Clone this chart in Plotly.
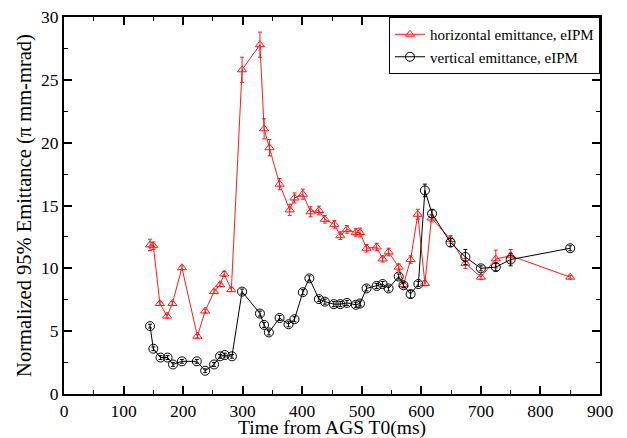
import plotly.graph_objects as go

# Horizontal emittance (red)
h_time = [144.5, 150, 161, 173, 182, 198, 224, 237, 252, 262, 269, 281, 299, 329, 336, 345, 362, 379,
          387, 401, 414, 428, 438, 454, 464, 475, 490, 497, 508, 525, 535, 545, 562, 570, 582, 594,
          606, 617, 649, 674, 700, 725, 750, 850]
h_emit = [11.87, 11.8, 7.2, 6.2, 7.2, 10.05, 4.6, 6.6, 8.15, 8.7, 9.55, 8.3, 25.8, 27.8, 21.1, 19.6, 16.7, 14.65,
          15.6, 15.9, 14.5, 14.6, 13.9, 13.5, 12.6, 13.1, 12.85, 12.85, 11.6, 11.7, 10.75, 11.3, 10.1, 8.7, 10.7, 14.3,
          8.8, 14.0, 12.3, 10.4, 9.3, 10.75, 11.0, 9.3]
h_err = [0.45, 0.3, 0.15, 0.15, 0.15, 0.15, 0.15, 0.15, 0.15, 0.15, 0.2, 0.15, 1.0, 1.0, 0.8, 0.65, 0.45, 0.45,
         0.4, 0.4, 0.4, 0.35, 0.3, 0.3, 0.3, 0.3, 0.3, 0.35, 0.3, 0.3, 0.25, 0.3, 0.25, 0.2, 0.3, 0.4,
         0.2, 0.3, 0.3, 0.4, 0.2, 0.7, 0.5, 0.15]

# Vertical emittance (black)
v_time = [144.5, 150, 162, 174, 183, 198, 223, 237, 252, 262, 270, 282, 299, 329, 336, 344, 362, 377,
          387, 401, 412, 428, 438, 453, 464, 475, 490, 497, 508, 525, 535, 545, 562, 570, 582, 595,
          606, 618, 649, 674, 700, 725, 750, 850]
v_emit = [5.4, 3.6, 2.9, 2.9, 2.35, 2.6, 2.6, 1.85, 2.35, 3.0, 3.1, 3.0, 8.15, 6.4, 5.5, 4.9, 6.05, 5.55,
          5.95, 8.1, 9.2, 7.55, 7.35, 7.15, 7.15, 7.25, 7.1, 7.2, 8.4, 8.6, 8.75, 8.4, 9.35, 8.65, 7.95, 8.75,
          16.2, 14.35, 12.05, 10.9, 10.0, 10.1, 10.7, 11.6]
v_err = [0.15, 0.15, 0.15, 0.15, 0.15, 0.15, 0.15, 0.15, 0.15, 0.15, 0.15, 0.15, 0.2, 0.2, 0.2, 0.2, 0.2, 0.2,
         0.2, 0.2, 0.2, 0.2, 0.2, 0.2, 0.2, 0.2, 0.2, 0.2, 0.2, 0.2, 0.2, 0.2, 0.2, 0.2, 0.3, 0.2,
         0.5, 0.3, 0.3, 0.6, 0.2, 0.3, 0.5, 0.2]

x_title = "Time from AGS T0(ms)"
y_title = "Normalized 95% Emittance (π mm-mrad)"

RED = "#ff1a1a"
FONT = "Liberation Serif"

fig = go.Figure()
fig.add_trace(go.Scatter(
    x=h_time, y=h_emit, mode="lines+markers", name="horizontal emittance, eIPM",
    line=dict(color=RED, width=1),
    marker=dict(symbol="triangle-up-open", size=8, color=RED, line=dict(width=1, color=RED)),
    error_y=dict(type="data", array=h_err, visible=True, color=RED, thickness=1, width=2),
))
fig.add_trace(go.Scatter(
    x=v_time, y=v_emit, mode="lines+markers", name="vertical emittance, eIPM",
    line=dict(color="black", width=1),
    marker=dict(symbol="circle-open", size=9, color="black", line=dict(width=1, color="black")),
    error_y=dict(type="data", array=v_err, visible=True, color="black", thickness=1, width=2),
))

axis_common = dict(
    showgrid=False, zeroline=False, showline=True, linecolor="black", linewidth=2,
    mirror="allticks", ticks="inside", ticklen=8, tickwidth=1.5, tickcolor="black",
    tickfont=dict(family=FONT, size=17.5, color="black"), automargin=False,
    ticklabeloverflow="allow",
)
fig.update_xaxes(
    range=[0, 900], dtick=100, tick0=0,
    minor=dict(ticks="inside", ticklen=4, dtick=50, tickcolor="black", tickwidth=1),
    **axis_common,
)
fig.update_yaxes(
    range=[0, 30], dtick=5, tick0=0,
    minor=dict(ticks="inside", ticklen=4, dtick=2.5, tickcolor="black", tickwidth=1),
    title=dict(text=y_title, font=dict(family=FONT, size=20.5, color="black"), standoff=4),
    **axis_common,
)
fig.add_annotation(
    text=x_title, xref="paper", yref="paper", x=0.5, y=0, xanchor="center", yanchor="middle",
    yshift=-34, showarrow=False, font=dict(family=FONT, size=19.5, color="black"),
)
# the page body adds an 8 px offset, so margins are compensated
fig.update_layout(
    width=627, height=438,
    margin=dict(l=56, r=35, t=9, b=52),
    plot_bgcolor="white", paper_bgcolor="white",
    showlegend=True,
    legend=dict(
        x=1, y=1, xanchor="right", yanchor="top",
        bgcolor="white", bordercolor="black", borderwidth=1,
        font=dict(family=FONT, size=15, color="black"),
        tracegroupgap=0, itemwidth=30,
    ),
)
fig.write_html("out.html")
